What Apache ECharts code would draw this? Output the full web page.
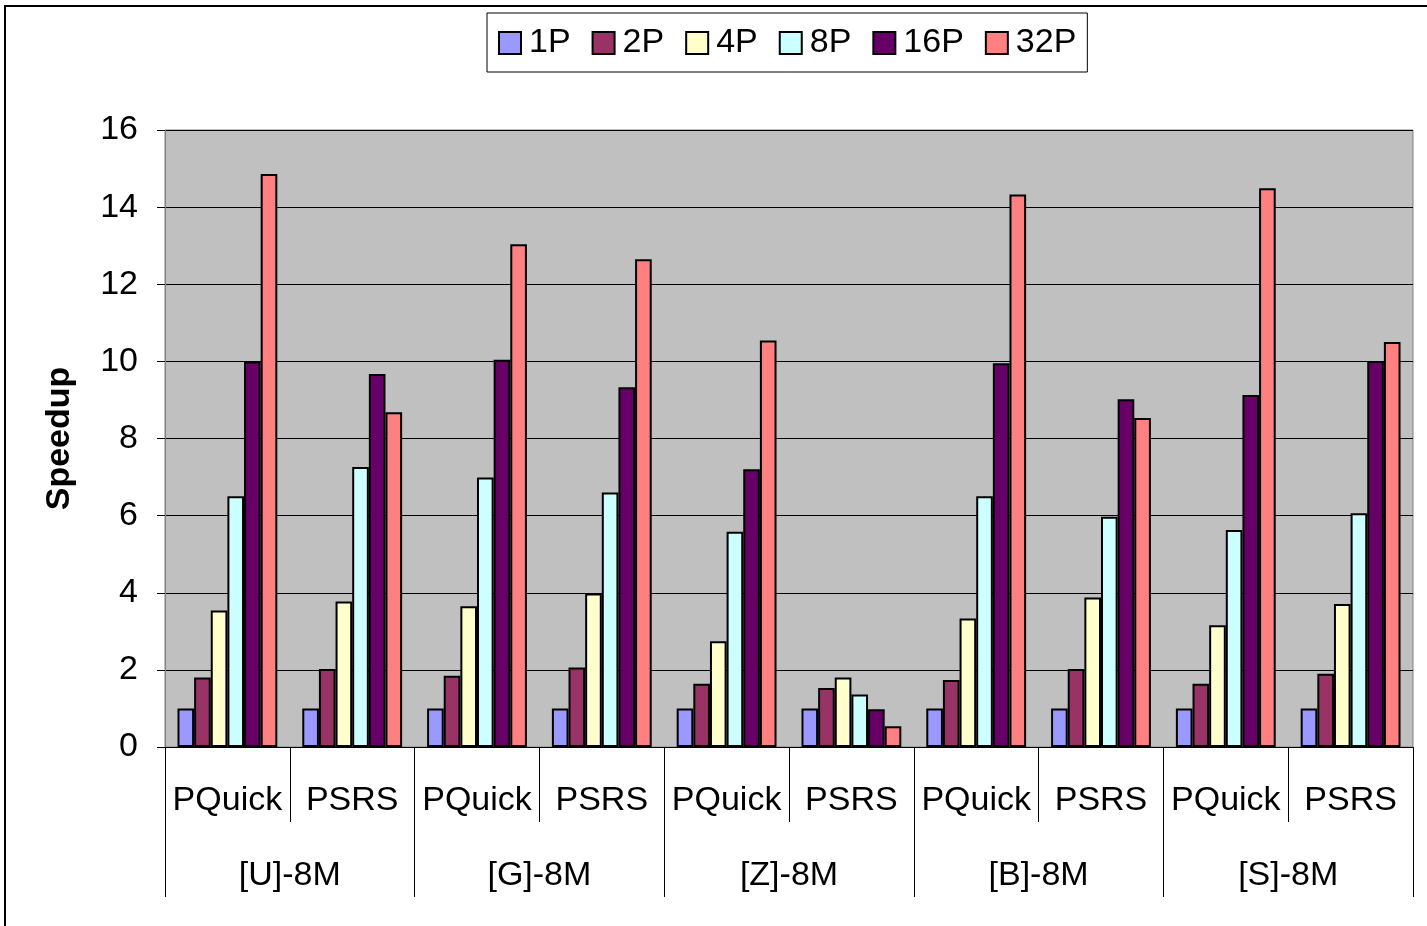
<!DOCTYPE html>
<html>
<head>
<meta charset="utf-8">
<script src="https://cdn.jsdelivr.net/npm/echarts@6/dist/echarts.min.js"></script>
<style>
html,body{margin:0;padding:0;background:#fff;}
#chart{width:1427px;height:926px;}
</style>
</head>
<body>
<div id="chart"></div>
<script>
const algorithms = ['PQuick','PSRS','PQuick','PSRS','PQuick','PSRS','PQuick','PSRS','PQuick','PSRS'];
const datasets = ['[U]-8M','[G]-8M','[Z]-8M','[B]-8M','[S]-8M'];
const seriesNames = ['1P','2P','4P','8P','16P','32P'];
const p1  = [1.0, 1.0, 1.0, 1.0, 1.0, 1.0, 1.0, 1.0, 1.0, 1.0];
const p2  = [1.80, 2.02, 1.85, 2.06, 1.64, 1.53, 1.74, 2.02, 1.64, 1.90];
const p4  = [3.54, 3.77, 3.65, 3.98, 2.74, 1.80, 3.33, 3.88, 3.16, 3.71];
const p8  = [6.50, 7.26, 6.99, 6.60, 5.58, 1.36, 6.50, 5.97, 5.63, 6.06];
const p16 = [10.0, 9.67, 10.04, 9.33, 7.20, 0.98, 9.95, 9.02, 9.13, 10.01];
const p32 = [14.86, 8.68, 13.04, 12.65, 10.54, 0.54, 14.33, 8.53, 14.49, 10.50];
const yTicks = [0, 16, 2];

const seriesData = [p1, p2, p4, p8, p16, p32];
const colors = ['#9999FF','#993366','#FFFFCC','#CCFFFF','#660066','#FF8080'];
const FONT = "'Liberation Sans', Arial, sans-serif";

const chart = echarts.init(document.getElementById('chart'));
chart.setOption({
  animation: false,
  textStyle: {fontFamily: FONT, color: '#000'},
  graphic: [{
    type: 'rect', silent: true,
    shape: {x: 5, y: 6, width: 1440, height: 940},
    style: {fill: 'none', stroke: '#000', lineWidth: 2}
  }],
  legend: {
    left: 487, top: 13,
    padding: [13, 11, 12, 11],
    borderColor: '#000', borderWidth: 1,
    itemWidth: 22, itemHeight: 22, itemGap: 21,
    icon: 'rect',
    textStyle: {fontSize: 34, color: '#000', fontFamily: FONT, padding: [0,0,0,3]},
    data: seriesNames
  },
  grid: {
    left: 165, right: 14, top: 130, bottom: 179,
    show: true, backgroundColor: '#c0c0c0', borderColor: '#808080', borderWidth: 1,
    containLabel: false
  },
  xAxis: [{
    type: 'category', data: algorithms, position: 'bottom',
    axisLine: {show: true, lineStyle: {color: '#000', width: 1}},
    axisTick: {show: true, interval: 0, length: 75, lineStyle: {color: '#000', width: 1}},
    axisLabel: {interval: 0, fontSize: 34, color: '#000', margin: 37, fontFamily: FONT},
    splitLine: {show: false}
  }, {
    type: 'category', data: datasets, position: 'bottom', offset: 0,
    axisLine: {show: false},
    axisTick: {show: true, interval: 0, length: 150, lineStyle: {color: '#000', width: 1}},
    axisLabel: {interval: 0, fontSize: 34, color: '#000', margin: 112, fontFamily: FONT},
    splitLine: {show: false}
  }],
  yAxis: {
    type: 'value', min: yTicks[0], max: yTicks[1], interval: yTicks[2],
    name: 'Speedup', nameLocation: 'middle', nameGap: 88, nameRotate: 90,
    nameTextStyle: {fontSize: 34, fontWeight: 'bold', color: '#000', fontFamily: FONT},
    axisLine: {show: true, lineStyle: {color: '#808080', width: 1}},
    axisTick: {show: true, inside: false, length: 8, lineStyle: {color: '#000'}},
    axisLabel: {fontSize: 34, color: '#000', margin: 27, fontFamily: FONT},
    splitLine: {show: true, lineStyle: {color: '#000', width: 1}}
  },
  series: seriesNames.map((n, i) => ({
    name: n, type: 'bar', xAxisIndex: 0,
    data: seriesData[i],
    barGap: '0%', barCategoryGap: '20%',
    itemStyle: {color: colors[i], borderColor: '#000', borderWidth: 2}
  }))
});
</script>
</body>
</html>
